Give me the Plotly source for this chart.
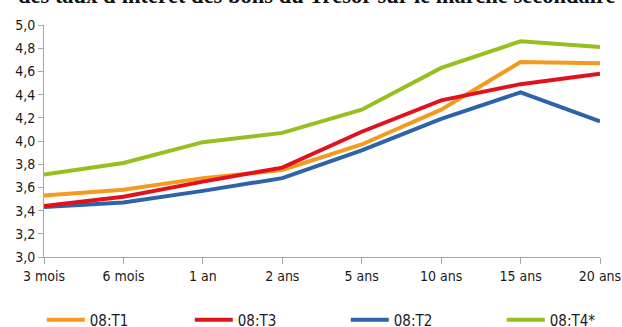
import plotly.graph_objects as go

# Maturités sur le marché secondaire
maturites = ["3 mois", "6 mois", "1 an", "2 ans", "5 ans", "10 ans", "15 ans", "20 ans"]

# Taux d'intérêt par trimestre (%)
taux_t1 = [3.53, 3.58, 3.68, 3.75, 3.97, 4.27, 4.68, 4.67]
taux_t2 = [3.43, 3.47, 3.57, 3.68, 3.92, 4.19, 4.42, 4.17]
taux_t3 = [3.44, 3.52, 3.65, 3.77, 4.08, 4.35, 4.49, 4.58]
taux_t4 = [3.71, 3.81, 3.99, 4.07, 4.27, 4.63, 4.86, 4.81]

yticks = [3.0, 3.2, 3.4, 3.6, 3.8, 4.0, 4.2, 4.4, 4.6, 4.8, 5.0]
ytick_labels = ["3,0", "3,2", "3,4", "3,6", "3,8", "4,0", "4,2", "4,4", "4,6", "4,8", "5,0"]

titre = "des taux d'intérêt des bons du Trésor sur le marché secondaire"

NARROW = "Liberation Sans Narrow, DejaVu Sans Condensed, sans-serif"

# drawing order: T2 at the back, then T1, T3, T4*
# (name, values, colour, legend rank, legend entry width in px)
series = [
    ("08:T2", taux_t2, "#2E63A9", 3, 103),
    ("08:T1", taux_t1, "#F39B1F", 1, 95),
    ("08:T3", taux_t3, "#E2121D", 2, 103),
    ("08:T4*", taux_t4, "#96BF1F", 4, 50),
]

fig = go.Figure()
for name, vals, color, rank, lw in series:
    fig.add_trace(go.Scatter(
        x=maturites, y=vals, name=name, mode="lines",
        line=dict(color=color, width=4),
        legendrank=rank, legendwidth=lw,
    ))

fig.update_layout(
    width=622, height=327,
    margin=dict(l=44, r=22, t=25, b=70, autoexpand=False),
    paper_bgcolor="white", plot_bgcolor="white",
    font=dict(family=NARROW, size=14, color="#1a1a1a"),
    showlegend=True,
    legend=dict(
        orientation="h", x=-0.004, xanchor="left", y=-0.272, yanchor="middle",
        font=dict(family=NARROW, size=15, color="#1a1a1a"),
        itemwidth=38, traceorder="normal",
    ),
)

fig.update_xaxes(
    type="category", range=[0, 7],
    showgrid=False, zeroline=False,
    showline=True, linecolor="#a6a6a6", linewidth=1,
    ticks="outside", ticklen=6, tickcolor="#a6a6a6", tickwidth=1,
    tickfont=dict(family=NARROW, size=14, color="#1a1a1a"),
)
fig.update_yaxes(
    range=[3.0, 5.0],
    tickvals=yticks, ticktext=ytick_labels,
    showgrid=False, zeroline=False,
    showline=True, linecolor="#a6a6a6", linewidth=1,
    ticks="outside", ticklen=5, tickcolor="#a6a6a6", tickwidth=1,
    tickfont=dict(family=NARROW, size=14, color="#1a1a1a"),
)

fig.add_annotation(
    text=titre, xref="paper", yref="paper",
    x=-0.05, y=1, xanchor="left", yanchor="bottom", yshift=15,
    showarrow=False,
    font=dict(family="Liberation Serif, Times New Roman, serif", size=22.5,
              weight="bold", color="#111111"),
)

fig.write_html("out.html")
